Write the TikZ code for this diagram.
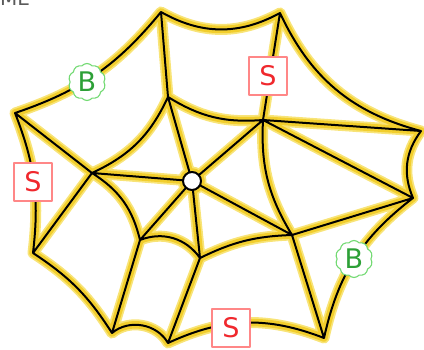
\documentclass[tikz,border=0pt]{standalone}
\usepackage{fontspec}
\setmainfont{DejaVu Sans}
\usetikzlibrary{shapes.symbols}

\definecolor{haloyellow}{RGB}{248,228,120}
\definecolor{glowyellow}{RGB}{242,206,45}
\definecolor{sred}{RGB}{240,40,45}
\definecolor{sredline}{RGB}{255,135,135}
\definecolor{bgreen}{RGB}{45,160,55}
\definecolor{bgreenline}{RGB}{115,218,115}
\definecolor{titlegray}{RGB}{90,90,90}

\tikzset{
  halo/.style={draw=haloyellow,line width=11pt},
  glow/.style={draw=glowyellow,line width=7.5pt},
  ink/.style={draw=black,line width=2pt},
  sbox/.style={draw=sredline,fill=white,line width=1.2pt,text=sred,
    minimum width=38pt,minimum height=38pt,inner sep=0pt,
    font=\fontsize{27}{30}\selectfont},
  bcloud/.style={cloud,cloud puffs=10,cloud puff arc=100,aspect=1,
    draw=bgreenline,fill=white,line width=1.1pt,text=bgreen,
    minimum width=37pt,minimum height=37pt,inner sep=0pt,
    font=\fontsize{27}{30}\selectfont},
  hub/.style={circle,draw=black,fill=white,line width=2pt,
    minimum size=18pt,inner sep=0pt},
}

\newcommand\webedges{
  % outer rim
  (L) to[bend right=16] (T)
  (T) to[bend right=29] (TR)
  (TR) to[bend right=25] (R)
  (R) to[bend right=30] (RL)
  (RL) to[bend right=20] (BR)
  (BR) to[bend right=23] (BL2)
  (BL2) to[bend right=50] (BL1)
  (BL1) to[bend right=12] (LL)
  (LL) to[bend right=14] (L)
  % inner ring
  (LI) to[bend right=20] (U1)
  (U1) to[bend right=18] (U2)
  (U2) to[bend right=17] (LR)
  (LR) to[bend right=12] (LI3)
  (LI3) to[bend right=38] (LI2)
  (LI2) to[bend right=22] (LI)
  % spokes
  (C) -- (U1) (C) -- (U2) (C) -- (LR)
  (C) -- (LI3) (C) -- (LI2) (C) -- (LI)
  % straight links
  (T) -- (U1) (TR) -- (U2) (U2) -- (R) (U2) -- (RL)
  (L) -- (LI) (LI) -- (LL) (LI2) -- (BL1) (LI3) -- (BL2)
  (LR) -- (BR) (LR) -- (RL)
}

\begin{document}
\begin{tikzpicture}[x=1pt,y=-1pt,line cap=round,line join=round]
  \useasboundingbox (0,0) rectangle (424,350);

  % outer vertices
  \coordinate (T) at (161,12);
  \coordinate (TR) at (280,13);
  \coordinate (R) at (421,131);
  \coordinate (RL) at (413,198);
  \coordinate (BR) at (324,338);
  \coordinate (BL2) at (168,343);
  \coordinate (BL1) at (112,333);
  \coordinate (LL) at (33,253);
  \coordinate (L) at (15,113);
  % inner vertices
  \coordinate (U1) at (168,97);
  \coordinate (U2) at (263,120);
  \coordinate (LR) at (292,235);
  \coordinate (LI3) at (200,258);
  \coordinate (LI2) at (140,240);
  \coordinate (LI) at (92,173);
  \coordinate (C) at (192,181);

  % title, cut at the top
  \node[anchor=base west,text=titlegray,font=\fontsize{20}{22}\selectfont,
    inner sep=0pt] (title) at (0,6) {ME};

  % glowing web
  \path[halo] \webedges (C) circle (9);
  \path[glow] \webedges (C) circle (9);
  \path[ink] \webedges;
  \node[hub] (hub) at (C) {};

  % labels on the rim
  \node[bcloud] (b1) at (87,82) {B};
  \node[bcloud] (b2) at (354,259) {B};
  \node[sbox] (s1) at (268,76) {S};
  \node[sbox] (s2) at (33,182) {S};
  \node[sbox] (s3) at (231,328) {S};
\end{tikzpicture}
\end{document}
